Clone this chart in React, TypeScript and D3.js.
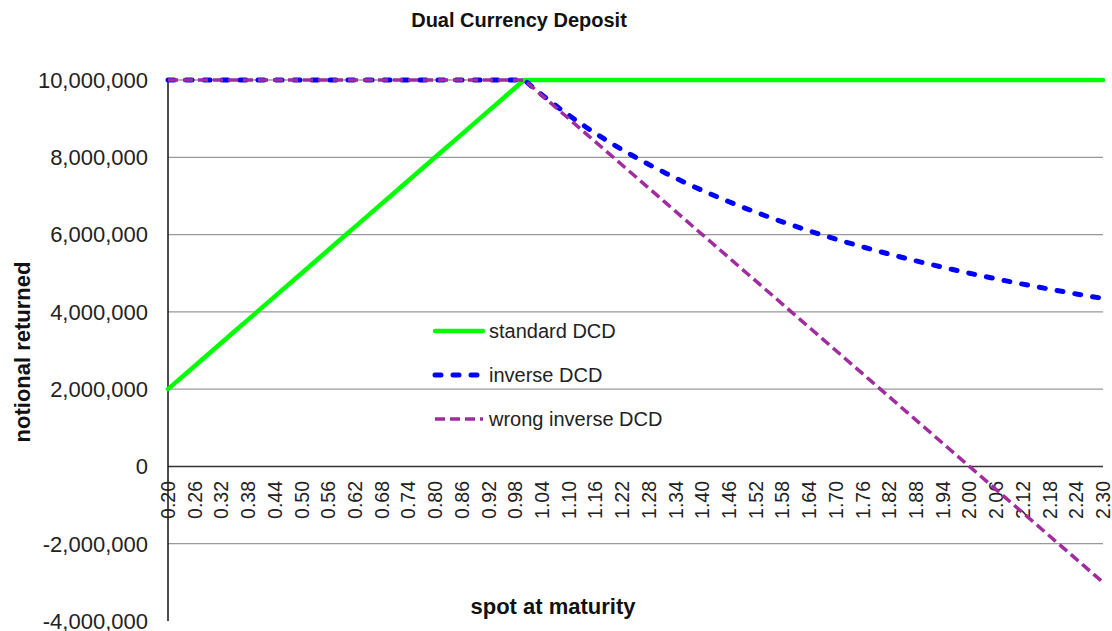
import React, { useEffect, useRef } from "react";
import * as d3 from "d3";

// spot at maturity (categories)
const spots = [
  0.2, 0.22, 0.24, 0.26, 0.28, 0.3, 0.32, 0.34, 0.36, 0.38, 0.4, 0.42, 0.44,
  0.46, 0.48, 0.5, 0.52, 0.54, 0.56, 0.58, 0.6, 0.62, 0.64, 0.66, 0.68, 0.7,
  0.72, 0.74, 0.76, 0.78, 0.8, 0.82, 0.84, 0.86, 0.88, 0.9, 0.92, 0.94, 0.96,
  0.98, 1.0, 1.02, 1.04, 1.06, 1.08, 1.1, 1.12, 1.14, 1.16, 1.18, 1.2, 1.22,
  1.24, 1.26, 1.28, 1.3, 1.32, 1.34, 1.36, 1.38, 1.4, 1.42, 1.44, 1.46, 1.48,
  1.5, 1.52, 1.54, 1.56, 1.58, 1.6, 1.62, 1.64, 1.66, 1.68, 1.7, 1.72, 1.74,
  1.76, 1.78, 1.8, 1.82, 1.84, 1.86, 1.88, 1.9, 1.92, 1.94, 1.96, 1.98, 2.0,
  2.02, 2.04, 2.06, 2.08, 2.1, 2.12, 2.14, 2.16, 2.18, 2.2, 2.22, 2.24, 2.26,
  2.28, 2.3,
];

// notional returned, in millions
const standardDCD = [
  2.0, 2.2, 2.4, 2.6, 2.8, 3.0, 3.2, 3.4, 3.6, 3.8, 4.0, 4.2, 4.4, 4.6, 4.8,
  5.0, 5.2, 5.4, 5.6, 5.8, 6.0, 6.2, 6.4, 6.6, 6.8, 7.0, 7.2, 7.4, 7.6, 7.8,
  8.0, 8.2, 8.4, 8.6, 8.8, 9.0, 9.2, 9.4, 9.6, 9.8, 10, 10, 10, 10, 10, 10, 10,
  10, 10, 10, 10, 10, 10, 10, 10, 10, 10, 10, 10, 10, 10, 10, 10, 10, 10, 10,
  10, 10, 10, 10, 10, 10, 10, 10, 10, 10, 10, 10, 10, 10, 10, 10, 10, 10, 10,
  10, 10, 10, 10, 10, 10, 10, 10, 10, 10, 10, 10, 10, 10, 10, 10, 10, 10, 10,
  10, 10,
];

const inverseDCD = [
  10, 10, 10, 10, 10, 10, 10, 10, 10, 10, 10, 10, 10, 10, 10, 10, 10, 10, 10,
  10, 10, 10, 10, 10, 10, 10, 10, 10, 10, 10, 10, 10, 10, 10, 10, 10, 10, 10,
  10, 10, 10, 9.804, 9.615, 9.434, 9.259, 9.091, 8.929, 8.772, 8.621, 8.475,
  8.333, 8.197, 8.065, 7.937, 7.813, 7.692, 7.576, 7.463, 7.353, 7.246, 7.143,
  7.042, 6.944, 6.849, 6.757, 6.667, 6.579, 6.494, 6.41, 6.329, 6.25, 6.173,
  6.098, 6.024, 5.952, 5.882, 5.814, 5.747, 5.682, 5.618, 5.556, 5.495, 5.435,
  5.376, 5.319, 5.263, 5.208, 5.155, 5.102, 5.051, 5.0, 4.95, 4.902, 4.854,
  4.808, 4.762, 4.717, 4.673, 4.63, 4.587, 4.545, 4.505, 4.464, 4.425, 4.386,
  4.348,
];

const wrongInverseDCD = [
  10, 10, 10, 10, 10, 10, 10, 10, 10, 10, 10, 10, 10, 10, 10, 10, 10, 10, 10,
  10, 10, 10, 10, 10, 10, 10, 10, 10, 10, 10, 10, 10, 10, 10, 10, 10, 10, 10,
  10, 10, 10, 9.8, 9.6, 9.4, 9.2, 9.0, 8.8, 8.6, 8.4, 8.2, 8.0, 7.8, 7.6, 7.4,
  7.2, 7.0, 6.8, 6.6, 6.4, 6.2, 6.0, 5.8, 5.6, 5.4, 5.2, 5.0, 4.8, 4.6, 4.4,
  4.2, 4.0, 3.8, 3.6, 3.4, 3.2, 3.0, 2.8, 2.6, 2.4, 2.2, 2.0, 1.8, 1.6, 1.4,
  1.2, 1.0, 0.8, 0.6, 0.4, 0.2, 0.0, -0.2, -0.4, -0.6, -0.8, -1.0, -1.2, -1.4,
  -1.6, -1.8, -2.0, -2.2, -2.4, -2.6, -2.8, -3.0,
];

const yTicks = [-4, -2, 0, 2, 4, 6, 8, 10];

const series = [
  { name: "standard DCD", values: standardDCD, color: "#00ff00", width: 4.5, dash: null, cap: "round" },
  { name: "inverse DCD", values: inverseDCD, color: "#0000ff", width: 5, dash: "6 12", cap: "round" },
  { name: "wrong inverse DCD", values: wrongInverseDCD, color: "#a02ca0", width: 3.5, dash: "10 5", cap: "butt" },
];

const FONT = "'Liberation Sans', Arial, sans-serif";

const App: React.FC = () => {
  const svgRef = useRef<SVGSVGElement | null>(null);

  useEffect(() => {
    const width = 1112;
    const height = 631;
    const left = 168;
    const right = 1103;
    const top = 80;
    const bottom = 621;

    const svg = d3.select(svgRef.current);
    svg.selectAll("*").remove();
    svg.attr("width", width).attr("height", height).attr("viewBox", [0, 0, width, height]);

    const x = d3
      .scalePoint<string>()
      .domain(spots.map((s) => s.toFixed(2)))
      .range([left, right]);

    const y = d3.scaleLinear().domain([-4, 10]).range([bottom, top]);

    // gridlines
    svg
      .append("g")
      .selectAll("line")
      .data(yTicks.filter((t) => t !== 0 && t !== -4))
      .join("line")
      .attr("x1", left)
      .attr("x2", right)
      .attr("y1", (d) => y(d))
      .attr("y2", (d) => y(d))
      .attr("stroke", "#999")
      .attr("stroke-width", 1.3);

    // zero line
    svg
      .append("line")
      .attr("x1", left)
      .attr("x2", right)
      .attr("y1", y(0))
      .attr("y2", y(0))
      .attr("stroke", "#333")
      .attr("stroke-width", 1.5);

    // y axis line
    svg
      .append("line")
      .attr("x1", left)
      .attr("x2", left)
      .attr("y1", top)
      .attr("y2", bottom)
      .attr("stroke", "#111")
      .attr("stroke-width", 1.5);

    // y tick labels (plain hyphen for negatives, like Excel)
    const fmt = d3.formatLocale({
      decimal: ".",
      thousands: ",",
      grouping: [3],
      currency: ["", ""],
      minus: "-",
    }).format(",");
    svg
      .append("g")
      .selectAll("text")
      .data(yTicks)
      .join("text")
      .attr("x", 148)
      .attr("y", (d) => y(d))
      .attr("dy", "0.36em")
      .attr("text-anchor", "end")
      .style("font", `22px ${FONT}`)
      .attr("fill", "#222")
      .text((d) => fmt(d * 1e6));

    // x tick labels, every third category
    svg
      .append("g")
      .selectAll("text")
      .data(spots.filter((_, i) => i % 3 === 0))
      .join("text")
      .attr(
        "transform",
        (d) => `translate(${x(d.toFixed(2))},481) rotate(-90)`,
      )
      .attr("dy", "0.36em")
      .attr("text-anchor", "end")
      .style("font", `19.5px ${FONT}`)
      .attr("fill", "#222")
      .text((d) => d.toFixed(2));

    // lines
    const line = d3
      .line<number>()
      .x((_, i) => x(spots[i].toFixed(2)) as number)
      .y((d) => y(d));

    series.forEach((s) => {
      const p = svg
        .append("path")
        .attr("d", line(s.values))
        .attr("fill", "none")
        .attr("stroke", s.color)
        .attr("stroke-width", s.width)
        .attr("stroke-linecap", s.cap)
        .attr("stroke-linejoin", "round");
      if (s.dash) p.attr("stroke-dasharray", s.dash);
    });

    // legend
    const legend = svg.append("g");
    series.forEach((s, i) => {
      const ly = 331 + i * 44;
      const l = legend
        .append("line")
        .attr("x1", 435)
        .attr("x2", 483)
        .attr("y1", ly)
        .attr("y2", ly)
        .attr("stroke", s.color)
        .attr("stroke-width", s.width)
        .attr("stroke-linecap", s.cap);
      if (s.dash) l.attr("stroke-dasharray", s.dash);
      legend
        .append("text")
        .attr("x", 489)
        .attr("y", ly)
        .attr("dy", "0.36em")
        .style("font", `20px ${FONT}`)
        .attr("fill", "#222")
        .text(s.name);
    });

    // titles
    svg
      .append("text")
      .attr("x", 519)
      .attr("y", 27)
      .attr("text-anchor", "middle")
      .style("font", `bold 20px ${FONT}`)
      .attr("fill", "#111")
      .text("Dual Currency Deposit");

    svg
      .append("text")
      .attr("transform", "translate(22,352) rotate(-90)")
      .attr("dy", "0.36em")
      .attr("text-anchor", "middle")
      .style("font", `bold 22px ${FONT}`)
      .attr("fill", "#111")
      .text("notional returned");

    svg
      .append("text")
      .attr("x", 553)
      .attr("y", 614)
      .attr("text-anchor", "middle")
      .style("font", `bold 22px ${FONT}`)
      .attr("fill", "#111")
      .text("spot at maturity");
  }, []);

  return (
    <svg
      ref={svgRef}
      style={{ position: "absolute", left: 0, top: 0, display: "block", background: "#fff" }}
    ></svg>
  );
};

export default App;
